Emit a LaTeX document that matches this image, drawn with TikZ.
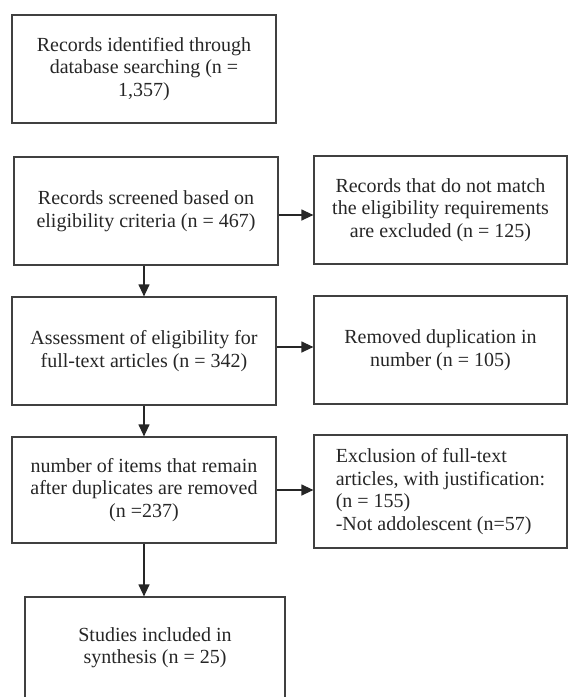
\documentclass[tikz,border=0pt]{standalone}
\usepackage{fontspec}
\setmainfont{Liberation Serif}
\usepackage{tikz}
\usetikzlibrary{arrows.meta, positioning, calc}
\tikzset{
  stagebox/.style={rectangle, draw=black!75, line width=1.2pt, text=black!85,
                 inner sep=0pt, align=center, font=\fontsize{20}{22.5}\selectfont},
  leftbox/.style={stagebox, minimum width=264pt, minimum height=108pt},
  rightbox/.style={stagebox, minimum width=253pt, minimum height=108pt},
  flow/.style={line width=1.2pt, draw=black!85, -{Triangle[length=12pt, width=11pt]}},
}

\begin{document}
\begin{tikzpicture}[x=1pt, y=-1pt]
    \useasboundingbox (0,0) rectangle (568,697);
    %% left column: the main flow of records
    \node[leftbox] (ident)  at (144,69)    {Records identified through\\database searching (n =\\1,357)};
    \node[leftbox] (screen) at (146,211)   {Records screened based on\\eligibility criteria (n = 467)};
    \node[leftbox] (assess) at (144,351)   {Assessment of eligibility for\\full-text articles (n = 342)};
    \node[leftbox, minimum height=106pt] (remain) at (144,490)
          {number of items that remain\\after duplicates are removed\\(n =237)};
    \node[leftbox, minimum width=260pt, minimum height=101pt] (incl) at (155,647.5)
          {Studies included in\\synthesis (n = 25)};
    %% right column: what is taken out at each step
    \node[rightbox] (nomatch) at (440.5,210) {Records that do not match\\the eligibility requirements\\are excluded (n = 125)};
    \node[rightbox] (dupl)    at (440.5,350) {Removed duplication in\\number (n = 105)};
    \node[rightbox, minimum height=113pt, align=left] (fulltxt) at (440.5,491.5)
          {Exclusion of full-text\\articles, with justification:\\(n = 155)\\-Not addolescent (n=57)};
    %% connectors
    \coordinate (scr-out) at ($(screen.east)+(0,4)$);
    \coordinate (ass-out) at ($(assess.east)+(0,-4)$);
    \draw[flow] (screen.south -| assess.north) -- (assess.north);
    \draw[flow] (assess.south) -- (remain.north);
    \draw[flow] (remain.south) -- (remain.south |- incl.north);
    \draw[flow] (scr-out) -- (scr-out -| nomatch.west);
    \draw[flow] (ass-out) -- (ass-out -| dupl.west);
    \draw[flow] (remain.east) -- (remain.east -| fulltxt.west);
\end{tikzpicture}
\end{document}
